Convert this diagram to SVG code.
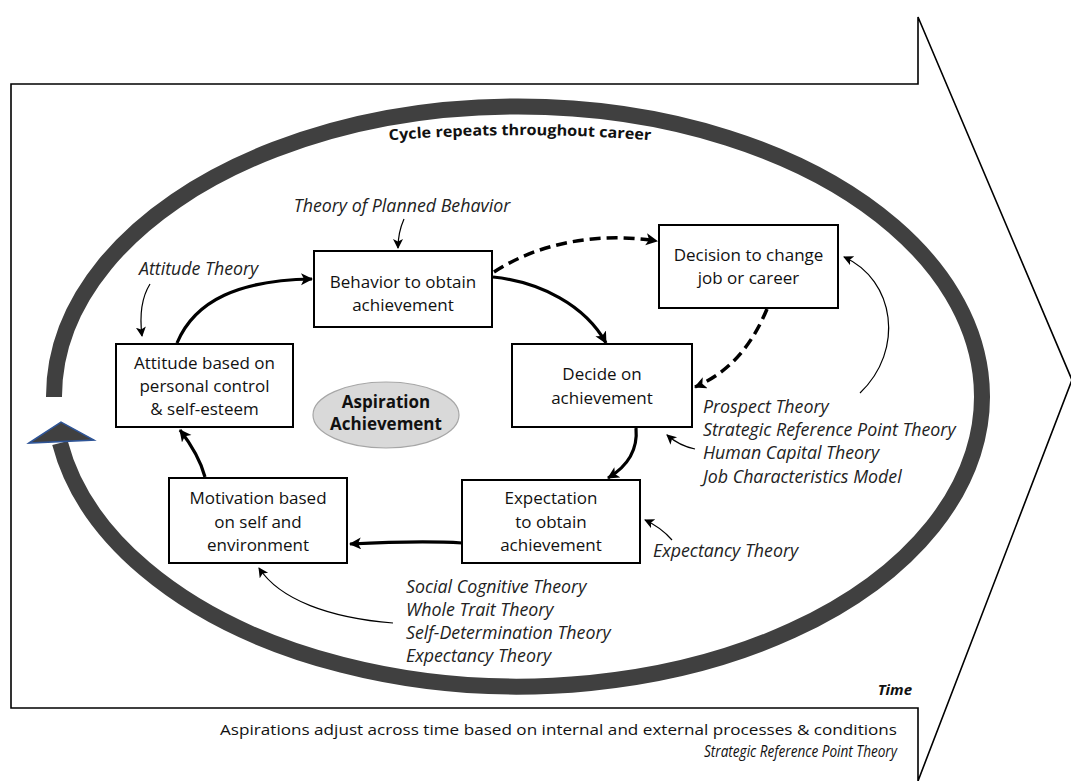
<svg xmlns="http://www.w3.org/2000/svg" width="1071" height="781" viewBox="0 0 1071 781">
<style>
.box{fill:#fff;stroke:#000;stroke-width:2}
.bt{font-family:"Open Sans","Noto Sans",sans-serif;font-size:17px;fill:#111;text-anchor:middle}
.th{font-family:"Open Sans","Noto Sans",sans-serif;font-size:17.8px;font-style:italic;fill:#222}
.main{fill:none;stroke:#000;stroke-width:3.2;marker-end:url(#ah)}
.dash{fill:none;stroke:#000;stroke-width:3.5;stroke-dasharray:11 6;marker-end:url(#ah)}
.thin{fill:none;stroke:#000;stroke-width:1.2;marker-end:url(#ahs)}
.cal{font-family:"Open Sans","Noto Sans",sans-serif;fill:#111}
</style>
<defs>
<marker id="ah" markerUnits="userSpaceOnUse" markerWidth="14" markerHeight="14" refX="11" refY="6" orient="auto"><path d="M0,0 L12,6 L0,12 L3,6 Z" fill="#000"/></marker>
<marker id="ahs" markerUnits="userSpaceOnUse" markerWidth="12" markerHeight="12" refX="9" refY="5" orient="auto"><path d="M0,0 L10,5 L0,10 L2.5,5 Z" fill="#000"/></marker>
</defs>
<rect width="1071" height="781" fill="#fff"/>
<g id="time-arrow">
<path d="M11,84 H918 V17 L1072,380 L918,781 V708 H11 Z" fill="#fff" stroke="#000" stroke-width="1.6"/>
</g>
<g id="cycle-ring">
<path d="M60,443 A464 290 0 1 0 54,397" fill="none" stroke="#404040" stroke-width="16"/>
<polygon points="29,443 61,422 94,440" fill="#404040" stroke="#2F5597" stroke-width="1.5"/>
<path id="cyc" d="M370,142 A1636 1636 0 0 1 670,142" fill="none"/>
<text class="cal" font-size="15" font-weight="bold" text-anchor="middle"><textPath href="#cyc" startOffset="50%" textLength="262" lengthAdjust="spacingAndGlyphs">Cycle repeats throughout career</textPath></text>
</g>
<g id="connectors">
<path class="main" d="M177,343 C195,300 240,280 312,279"/>
<path class="main" d="M493,277 C540,282 585,305 606,343"/>
<path class="main" d="M636,428 C638,450 628,466 608,478"/>
<path class="main" d="M462,543 C430,541 390,542 350,544"/>
<path class="main" d="M205,477 C200,458 190,443 180,430"/>
<path class="dash" d="M494,272 C540,242 600,232 657,241"/>
<path class="dash" d="M767,309 C752,345 730,372 695,387"/>
<path class="thin" d="M404,219 C400,228 398,236 398,248"/>
<path class="thin" d="M150,284 C140,300 140,320 142,336"/>
<path class="thin" d="M860,393 C905,350 895,280 844,257"/>
<path class="thin" d="M695,449 C685,447 675,442 667,435"/>
<path class="thin" d="M672,540 C665,532 656,525 645,520"/>
<path class="thin" d="M393,623 C330,618 280,600 259,568"/>
</g>
<g id="behavior">
<rect class="box" x="314" y="251" width="178" height="76"/>
<text class="bt" x="403" y="288">Behavior to obtain</text>
<text class="bt" x="403" y="311">achievement</text>
</g>
<g id="decision-change">
<rect class="box" x="659" y="225" width="179" height="83"/>
<text class="bt" x="748.5" y="261">Decision to change</text>
<text class="bt" x="748.5" y="284">job or career</text>
</g>
<g id="decide">
<rect class="box" x="512" y="344" width="180" height="83"/>
<text class="bt" x="602" y="380">Decide on</text>
<text class="bt" x="602" y="404">achievement</text>
</g>
<g id="expectation">
<rect class="box" x="462" y="480" width="178" height="83"/>
<text class="bt" x="551" y="504">Expectation</text>
<text class="bt" x="551" y="528">to obtain</text>
<text class="bt" x="551" y="551">achievement</text>
</g>
<g id="motivation">
<rect class="box" x="169" y="478" width="178" height="85"/>
<text class="bt" x="258" y="504">Motivation based</text>
<text class="bt" x="258" y="528">on self and</text>
<text class="bt" x="258" y="551">environment</text>
</g>
<g id="attitude">
<rect class="box" x="116" y="344" width="177" height="83"/>
<text class="bt" x="204.5" y="369">Attitude based on</text>
<text class="bt" x="204.5" y="392">personal control</text>
<text class="bt" x="204.5" y="415">&amp; self-esteem</text>
</g>
<g id="aspiration">
<ellipse cx="386" cy="415" rx="73" ry="33" fill="#d9d9d9" stroke="#a6a6a6" stroke-width="1.2"/>
<text class="bt" x="386" y="408" font-weight="bold" font-size="14.5">Aspiration</text>
<text class="bt" x="386" y="430" font-weight="bold" font-size="14.5">Achievement</text>
</g>
<g id="theories">
<text class="th" x="402" y="212" text-anchor="middle">Theory of Planned Behavior</text>
<text class="th" x="139" y="275">Attitude Theory</text>
<text class="th" x="703" y="413">Prospect Theory</text>
<text class="th" x="703" y="436">Strategic Reference Point Theory</text>
<text class="th" x="703" y="459">Human Capital Theory</text>
<text class="th" x="703" y="483">Job Characteristics Model</text>
<text class="th" x="653" y="557">Expectancy Theory</text>
<text class="th" x="406" y="593">Social Cognitive Theory</text>
<text class="th" x="406" y="616">Whole Trait Theory</text>
<text class="th" x="406" y="639">Self-Determination Theory</text>
<text class="th" x="406" y="662">Expectancy Theory</text>
</g>
<g id="time-labels">
<text class="cal" x="912" y="695" font-size="15" font-weight="bold" font-style="italic" text-anchor="end">Time</text>
<text class="cal" x="897" y="735" font-size="15" text-anchor="end" textLength="677" lengthAdjust="spacingAndGlyphs">Aspirations adjust across time based on internal and external processes &amp; conditions</text>
<text class="cal" x="897" y="757" font-size="16" font-style="italic" text-anchor="end" textLength="193" lengthAdjust="spacingAndGlyphs">Strategic Reference Point Theory</text>
</g>
</svg>
